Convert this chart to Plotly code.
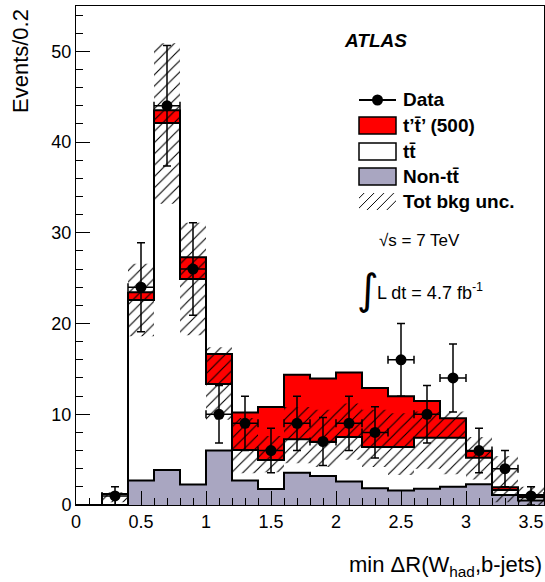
import numpy as np
import plotly.graph_objects as go

# ---------------- data ----------------
bin_edges = [0.0, 0.2, 0.4, 0.6, 0.8, 1.0, 1.2, 1.4, 1.6, 1.8, 2.0,
             2.2, 2.4, 2.6, 2.8, 3.0, 3.2, 3.4, 3.6]
data_counts = [0, 1, 24, 44, 26, 10, 9, 6, 9, 7, 9, 8, 16, 10, 14, 6, 4, 1]
non_ttbar = [0, 0, 2.7, 3.85, 2.25, 6.0, 2.7, 1.75, 3.55, 3.2, 2.6,
             1.85, 1.6, 1.8, 2.0, 2.3, 1.1, 0.5]
ttbar = [0, 1.2, 19.9, 38.25, 22.65, 7.35, 3.35, 3.2, 3.7, 3.75, 4.9,
         4.55, 4.8, 5.6, 5.4, 2.9, 0.55, 0.35]
signal_tptp = [0, 0, 0.85, 1.4, 2.4, 3.3, 4.15, 5.85, 7.1, 7.0, 7.1,
               6.5, 5.6, 4.05, 2.15, 0.75, 0.3, 0.25]
unc_lo = [0, 0.3, 18.6, 33.2, 18.7, 9.4, 3.5, 3.6, 4.6, 4.2, 5.0,
          4.2, 3.3, 4.0, 3.4, 2.8, 0.3, 0.0]
unc_hi = [0, 1.4, 26.6, 50.9, 31.1, 17.4, 9.6, 7.6, 10.8, 10.5, 11.2,
          10.5, 10.1, 10.3, 10.3, 7.5, 5.4, 2.0]
x_tick_vals = [0, 0.5, 1, 1.5, 2, 2.5, 3, 3.5]
x_tick_text = ["0", "0.5", "1", "1.5", "2", "2.5", "3", "3.5"]
y_tick_vals = [0, 10, 20, 30, 40, 50]
y_tick_text = ["0", "10", "20", "30", "40", "50"]

# ---------------- derived ----------------
edges = np.array(bin_edges)
centers = 0.5 * (edges[:-1] + edges[1:])
width = edges[1] - edges[0]
lvl_non = np.array(non_ttbar)
lvl_tt = lvl_non + np.array(ttbar)
lvl_sig = lvl_tt + np.array(signal_tptp)
lo = np.array(unc_lo)
hi = np.array(unc_hi)
counts = np.array(data_counts, dtype=float)
mask = counts > 0

FONT = "Liberation Sans, Arial, Helvetica, sans-serif"
PURPLE = "#a9a6c1"
HATCH = dict(shape="/", fgcolor="black", fgopacity=1, bgcolor="rgba(0,0,0,0)",
             size=8, solidity=0.14, fillmode="overlay")

# plot area in pixels
W, H = 545, 582
ML, MR, MT, MB = 76, 1, 6, 77
PW, PH = W - ML - MR, H - MT - MB
XR, YR = (0, 3.6), (0, 55)


def px2x(px):
    return XR[0] + (px - ML) / PW * (XR[1] - XR[0])


def py2y(py):
    return YR[0] + (MT + PH - py) / PH * (YR[1] - YR[0])


def px2p(px):
    return (px - ML) / PW


def py2p(py):
    return (MT + PH - py) / PH


def step(vals):
    return list(edges), list(vals) + [vals[-1]]


fig = go.Figure()

for vals, col in [(lvl_sig, "#ff0000"), (lvl_tt, "#ffffff"), (lvl_non, PURPLE)]:
    sx, sy = step(vals)
    fig.add_trace(go.Scatter(x=sx, y=sy, mode="lines", line_shape="hv",
                             line=dict(color="black", width=2),
                             fill="tozeroy", fillcolor=col,
                             hoverinfo="skip", showlegend=False))

# total background uncertainty (hatched rectangles per bin)
hx, hy = [], []
for i in range(len(centers)):
    if hi[i] > lo[i]:
        x0, x1 = edges[i], edges[i + 1]
        hx += [x0, x1, x1, x0, x0, None]
        hy += [lo[i], lo[i], hi[i], hi[i], lo[i], None]
fig.add_trace(go.Scatter(x=hx, y=hy, mode="lines", fill="toself",
                         line=dict(width=0, color="rgba(0,0,0,0)"),
                         fillcolor="rgba(0,0,0,0)", fillpattern=HATCH,
                         connectgaps=False, hoverinfo="skip", showlegend=False))

# data
fig.add_trace(go.Scatter(x=centers[mask], y=counts[mask], mode="markers",
                         marker=dict(color="black", size=11),
                         error_y=dict(type="data", array=np.sqrt(counts[mask]),
                                      color="black", thickness=1.5, width=4),
                         error_x=dict(type="constant", value=width / 2,
                                      color="black", thickness=1.5, width=4),
                         showlegend=False))

# ---------------- legend (manual, ROOT style) ----------------
bx0, bx1 = 359, 396
fig.add_shape(type="line", xref="paper", yref="paper",
              x0=px2p(bx0), x1=px2p(bx1), y0=py2p(100), y1=py2p(100),
              line=dict(color="black", width=2))
fig.add_trace(go.Scatter(x=[px2x(377.5)], y=[py2y(100)], mode="markers",
                         marker=dict(color="black", size=11),
                         showlegend=False, hoverinfo="skip"))
boxes = [(117, 134, "#ff0000"), (143, 160, "#ffffff"), (168, 185, PURPLE)]
for t, b, c in boxes:
    fig.add_shape(type="rect", xref="paper", yref="paper",
                  x0=px2p(bx0), x1=px2p(bx1), y0=py2p(b), y1=py2p(t),
                  fillcolor=c, line=dict(color="black", width=1.5))
lx = [px2x(bx0), px2x(bx1), px2x(bx1), px2x(bx0), px2x(bx0)]
ly = [py2y(210), py2y(210), py2y(193), py2y(193), py2y(210)]
fig.add_trace(go.Scatter(x=lx, y=ly, mode="lines", fill="toself",
                         line=dict(width=0, color="rgba(0,0,0,0)"),
                         fillcolor="rgba(0,0,0,0)",
                         fillpattern=dict(HATCH, size=7),
                         showlegend=False, hoverinfo="skip"))

leg_labels = ["Data", "t\u2019t\u0304\u2019 (500)", "tt\u0304", "Non-tt\u0304",
              "Tot bkg unc."]
leg_y = [100, 125.5, 151.5, 176.5, 201.5]
for lab, yy in zip(leg_labels, leg_y):
    fig.add_annotation(text="<b>" + lab + "</b>", xref="paper", yref="paper",
                       x=px2p(401), y=py2p(yy), xanchor="left", yanchor="middle",
                       showarrow=False, font=dict(family=FONT, size=19, color="black"))

fig.add_annotation(text="<b><i>ATLAS</i></b>", xref="paper", yref="paper",
                   x=px2p(342), y=py2p(41), xanchor="left", yanchor="middle",
                   showarrow=False, font=dict(family=FONT, size=19, color="black"))
fig.add_annotation(text="\u221as = 7 TeV", xref="paper", yref="paper",
                   x=px2p(377), y=py2p(240), xanchor="left", yanchor="middle",
                   showarrow=False, font=dict(family=FONT, size=17, color="black"))
fig.add_annotation(text="\u222b", xref="paper", yref="paper",
                   x=px2p(355), y=py2p(289), xanchor="left", yanchor="middle",
                   showarrow=False, font=dict(family="DejaVu Sans", size=42, color="black"))
fig.add_annotation(text="L dt = 4.7 fb<sup>-1</sup>", xref="paper", yref="paper",
                   x=px2p(375), y=py2p(291), xanchor="left", yanchor="middle",
                   showarrow=False, font=dict(family=FONT, size=18, color="black"))

fig.add_annotation(text="Events/0.2", xref="paper", yref="paper",
                   x=px2p(20), y=py2p(7), xanchor="center", yanchor="top",
                   textangle=-90, showarrow=False,
                   font=dict(family=FONT, size=22, color="black"))
fig.add_annotation(text="min \u0394R(W<sub>had</sub>,b-jets)", xref="paper", yref="paper",
                   x=px2p(544), y=py2p(566), xanchor="right", yanchor="middle",
                   showarrow=False, font=dict(family=FONT, size=22, color="black"))

axis_common = dict(showgrid=False, zeroline=False, showline=True, linecolor="black",
                   linewidth=1, mirror=True, ticks="inside", tickcolor="black",
                   tickwidth=1, ticklen=14,
                   tickfont=dict(family=FONT, size=18, color="black"))
fig.update_xaxes(range=list(XR), tickvals=x_tick_vals, ticktext=x_tick_text,
                 minor=dict(dtick=0.1, tick0=0, ticks="inside", ticklen=7,
                            tickcolor="black", tickwidth=1),
                 **axis_common)
fig.update_yaxes(range=list(YR), tickvals=y_tick_vals, ticktext=y_tick_text,
                 minor=dict(dtick=2, tick0=0, ticks="inside", ticklen=7,
                            tickcolor="black", tickwidth=1),
                 **axis_common)
fig.update_layout(width=W, height=H, margin=dict(l=ML, r=MR, t=MT, b=MB),
                  paper_bgcolor="white", plot_bgcolor="white",
                  showlegend=False,
                  font=dict(family=FONT, color="black"))

fig.write_html("out.html", config={"displayModeBar": False},
               post_script="document.body.style.margin='0';"
                           "document.body.style.overflow='hidden';")
